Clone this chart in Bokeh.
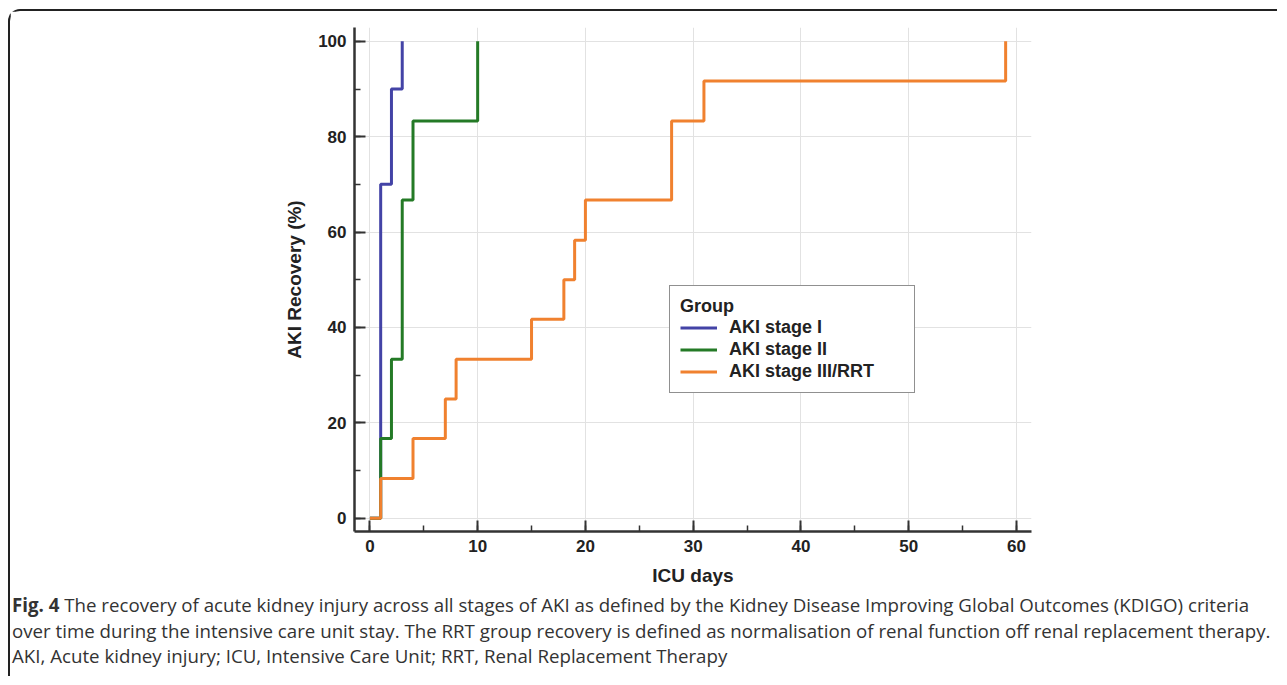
from bokeh.plotting import figure
from bokeh.models import Range1d, SingleIntervalTicker, Legend, LegendItem, Div
from bokeh.layouts import column
from bokeh.embed import file_html
from bokeh.resources import INLINE

# ---- data ----
stage1_days = [0, 1, 2, 3]
stage1_rec = [0, 70, 90, 100]
stage2_days = [0, 1, 2, 3, 4, 10]
stage2_rec = [0, 16.7, 33.3, 66.7, 83.3, 100]
stage3_days = [0, 1, 4, 7, 8, 15, 18, 19, 20, 28, 31, 59]
stage3_rec = [0, 8.3, 16.7, 25, 33.3, 41.7, 50, 58.3, 66.7, 83.3, 91.7, 100]
series_names = ["AKI stage I", "AKI stage II", "AKI stage III/RRT"]
series_colors = ["#4343a6", "#247a26", "#f0812f"]
caption_label = "Fig. 4"
caption_lines = [
    "The recovery of acute kidney injury across all stages of AKI as defined by the Kidney Disease Improving Global Outcomes (KDIGO) criteria",
    "over time during the intensive care unit stay. The RRT group recovery is defined as normalisation of renal function off renal replacement therapy.",
    "AKI, Acute kidney injury; ICU, Intensive Care Unit; RRT, Renal Replacement Therapy",
]

W, H = 1269, 580
p = figure(width=W, height=H, output_backend="svg", toolbar_location=None,
           x_range=Range1d(-1.43, 61.4), y_range=Range1d(-2.8, 102.9),
           min_border_left=344, min_border_right=248, min_border_top=16, min_border_bottom=60,
           styles={"border-top": "2px solid #222", "border-left": "2px solid #222",
                   "border-top-left-radius": "12px"})
p.outline_line_color = None
p.background_fill_color = "white"
p.border_fill_color = "white"

p.xaxis.ticker = SingleIntervalTicker(interval=10, num_minor_ticks=2)
p.yaxis.ticker = SingleIntervalTicker(interval=20, num_minor_ticks=2)
for ax in (p.xaxis, p.yaxis):
    ax.axis_line_color = "#333333"
    ax.axis_line_width = 2.5
    ax.major_tick_line_color = "#333333"
    ax.major_tick_line_width = 2
    ax.minor_tick_line_color = "#333333"
    ax.minor_tick_line_width = 1.5
    ax.major_tick_in = 11
    ax.major_tick_out = 0
    ax.minor_tick_in = 6
    ax.minor_tick_out = 0
    ax.major_label_text_font = "Liberation Sans"
    ax.major_label_text_font_style = "bold"
    ax.major_label_text_font_size = "17px"
    ax.major_label_text_color = "#222222"
    ax.major_label_standoff = 8
    ax.axis_label_text_font = "Liberation Sans"
    ax.axis_label_text_font_style = "bold"
    ax.axis_label_text_font_size = "19px"
    ax.axis_label_text_color = "#222222"
p.xaxis.axis_label = "ICU days"
p.yaxis.axis_label = "AKI Recovery (%)"
p.xaxis.axis_label_standoff = 10
p.yaxis.axis_label_standoff = 10

p.grid.grid_line_color = "#e2e2e2"
p.grid.grid_line_width = 1

r1 = p.step(stage1_days, stage1_rec, mode="after", line_color=series_colors[0], line_width=3)
r2 = p.step(stage2_days, stage2_rec, mode="after", line_color=series_colors[1], line_width=3)
r3 = p.step(stage3_days, stage3_rec, mode="after", line_color=series_colors[2], line_width=3)

legend = Legend(items=[LegendItem(label=series_names[0], renderers=[r1]),
                       LegendItem(label=series_names[1], renderers=[r2]),
                       LegendItem(label=series_names[2], renderers=[r3])],
                location=(315, 138), title="Group")
legend.title_text_font = "Liberation Sans"
legend.title_text_font_style = "bold"
legend.title_text_font_size = "18px"
legend.title_text_color = "#222222"
legend.title_standoff = 0
legend.label_text_font = "Liberation Sans"
legend.label_text_font_style = "bold"
legend.label_text_font_size = "18px"
legend.label_text_color = "#222222"
legend.glyph_width = 37
legend.glyph_height = 19
legend.label_height = 19
legend.label_standoff = 12
legend.label_width = 175
legend.spacing = 1
legend.padding = 10
legend.margin = 0
legend.border_line_color = "#222222"
legend.border_line_width = 1.5
legend.background_fill_color = "white"
legend.background_fill_alpha = 1.0
p.add_layout(legend, "center")

caption_html = ("<b>%s</b> %s<br>%s<br>%s" % (caption_label, caption_lines[0],
                                              caption_lines[1], caption_lines[2]))
cap = Div(text=caption_html, width=W, height=87, margin=0,
          styles={"border-left": "2px solid #222", "font-family": "'Open Sans'",
                  "font-size": "18.7px", "line-height": "25.5px", "color": "#333333",
                  "white-space": "nowrap", "padding-left": "2px", "padding-top": "3px"})

layout = column(p, cap, margin=(9, 0, 0, 8), spacing=0)
open("out.html", "w").write(file_html(layout, INLINE))
